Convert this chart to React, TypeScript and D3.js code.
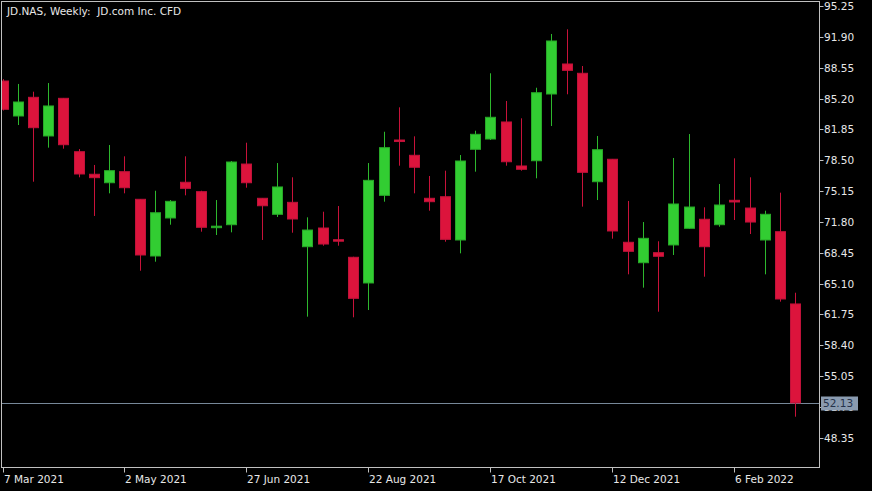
import React from "react";
import * as d3 from "d3";

const title = "JD.NAS, Weekly:  JD.com Inc. CFD";
const startDate = new Date(2021, 2, 7);
const opens = [87.10, 83.30, 85.33, 81.13, 85.22, 79.42, 76.97, 76.05, 77.25, 74.25, 68.09, 72.22, 76.10, 75.08, 71.19, 71.49, 78.08, 74.36, 72.62, 73.92, 69.10, 71.13, 69.86, 67.95, 65.16, 74.68, 80.69, 79.03, 74.36, 74.53, 69.83, 79.68, 80.80, 82.65, 77.87, 78.44, 85.69, 88.95, 87.94, 76.16, 78.60, 69.58, 67.36, 68.45, 69.29, 71.10, 72.08, 71.49, 74.14, 73.30, 69.83, 70.73, 62.88];
const highs = [87.30, 86.78, 85.94, 86.88, 85.26, 79.71, 77.98, 80.15, 78.92, 74.28, 75.18, 74.17, 78.92, 75.18, 74.17, 78.41, 80.40, 74.39, 78.19, 76.64, 72.29, 72.90, 73.52, 68.01, 78.19, 81.59, 84.24, 81.09, 76.78, 77.36, 79.06, 81.70, 87.94, 84.93, 83.05, 86.37, 92.21, 92.72, 88.73, 81.13, 78.63, 74.07, 71.78, 69.69, 78.74, 81.34, 73.38, 75.91, 78.70, 76.64, 73.01, 74.97, 64.10];
const lows = [83.90, 82.32, 76.16, 79.86, 79.75, 76.64, 72.44, 74.90, 74.90, 66.49, 67.47, 71.49, 74.68, 70.73, 70.37, 70.66, 75.51, 69.83, 72.33, 70.62, 61.50, 69.21, 69.21, 61.43, 62.22, 73.99, 77.90, 74.90, 73.01, 69.64, 68.38, 77.25, 80.69, 77.90, 77.36, 76.53, 82.21, 85.66, 73.45, 74.17, 69.97, 66.10, 64.65, 62.04, 68.20, 71.06, 65.84, 71.27, 72.00, 70.48, 66.10, 63.13, 50.63];
const closes = [84.03, 84.82, 82.03, 84.39, 80.18, 77.00, 76.60, 77.36, 75.51, 68.20, 72.79, 74.03, 75.44, 71.21, 71.33, 78.30, 76.05, 73.55, 75.59, 72.11, 70.91, 69.39, 69.72, 63.49, 76.31, 79.86, 80.53, 77.73, 73.99, 69.90, 78.41, 81.31, 83.16, 78.33, 77.51, 85.83, 91.45, 88.26, 77.18, 79.64, 70.81, 68.60, 70.01, 68.06, 73.74, 73.41, 69.10, 73.63, 73.96, 71.78, 72.62, 63.42, 52.13];
const priceTicks = [95.25, 91.90, 88.55, 85.20, 81.85, 78.50, 75.15, 71.80, 68.45, 65.10, 61.75, 58.40, 55.05, 51.70, 48.35];
const dateTickIdx = [0, 8, 16, 24, 32, 40, 48];
const lastPrice = 52.13;

const W = 872, H = 491;
const L = 1.5, T = 1.5, R = 819.5, B = 467.5;
const FONT = "'DejaVu Sans', sans-serif";
const GREEN = "#32cd32";
const RED = "#dc143c";

export default function App() {
  const n = opens.length;
  const x = d3.scaleLinear().domain([0, n - 1]).range([2.5, 795.3]);
  const y = d3.scaleLinear().domain([48.35, 95.25]).range([437.7, 6]);
  const dates = d3.range(n).map((i) => d3.timeDay.offset(startDate, 7 * i));
  const fmt = d3.timeFormat("%-d %b %Y");
  const bw = 10;
  const ly = Math.round(y(lastPrice)) + 0.5;

  return (
    <svg width={W} height={H} style={{ position: "absolute", left: 0, top: 0, background: "#000" }} fontFamily={FONT}>
      <rect x={0} y={0} width={W} height={H} fill="#000" />
      <defs>
        <clipPath id="plot">
          <rect x={L + 0.5} y={T + 0.5} width={R - L - 1} height={B - T - 1} />
        </clipPath>
      </defs>
      <g clipPath="url(#plot)">
        <line x1={L} x2={R} y1={ly} y2={ly} stroke="#778899" strokeWidth={1} />
        {opens.map((o, i) => {
          const c = closes[i];
          const up = c >= o;
          const col = up ? GREEN : RED;
          const cx = Math.round(x(i)) + 0.5;
          const top = y(Math.max(o, c));
          const bot = y(Math.min(o, c));
          return (
            <g key={i}>
              <line x1={cx} x2={cx} y1={y(highs[i])} y2={y(lows[i])} stroke={up ? "#2db82d" : "#c8123a"} strokeWidth={1} />
              <rect x={cx - bw / 2} y={top} width={bw} height={Math.max(1.5, bot - top)} fill={col} stroke={up ? "#28a828" : "#c0123a"} strokeWidth={1} />
            </g>
          );
        })}
      </g>
      <rect x={L} y={T} width={R - L} height={B - T} fill="none" stroke="#c0c0c0" strokeWidth={1} />
      <text x={7} y={15} fill="#e8e8e8" fontSize={10.5} style={{ whiteSpace: "pre" }}>{title}</text>
      {priceTicks.map((p) => {
        const py = Math.round(y(p)) + 0.5;
        return (
          <g key={p}>
            <line x1={R} x2={R + 4} y1={py} y2={py} stroke="#c0c0c0" />
            <text x={824} y={py} dy="0.35em" fill="#e8e8e8" fontSize={10.5}>{p.toFixed(2)}</text>
          </g>
        );
      })}
      <rect x={821} y={ly - 7} width={37} height={14} fill="#8a9bb0" />
      <text x={823} y={ly} dy="0.36em" fill="#25324a" fontSize={10.5}>{lastPrice.toFixed(2)}</text>
      {dateTickIdx.map((i) => {
        const tx = Math.round(x(i)) + 0.5;
        return (
          <g key={i}>
            <line x1={tx} x2={tx} y1={B} y2={B + 5} stroke="#c0c0c0" />
            <text x={tx + 0.5} y={483} fill="#e8e8e8" fontSize={10.5}>{fmt(dates[i])}</text>
          </g>
        );
      })}
    </svg>
  );
}
